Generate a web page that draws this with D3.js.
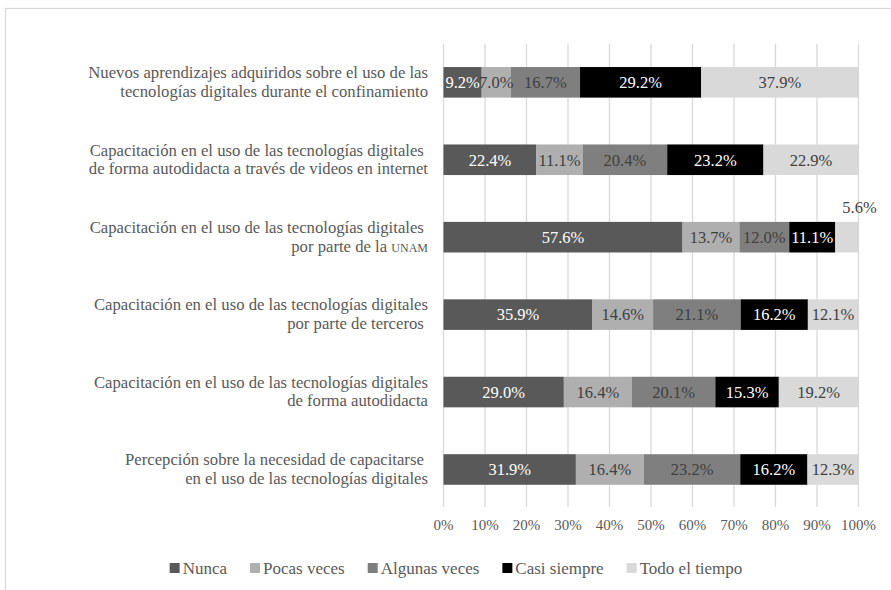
<!DOCTYPE html>
<html>
<head>
<meta charset="utf-8">
<script src="https://cdn.jsdelivr.net/npm/d3@7"></script>
<style>
  body { margin: 0; background: #fff; }
</style>
</head>
<body>
<div class="chart"></div>
<script>
var svg_width = 891;
var svg_height = 590;
var fontFamily = "'Liberation Serif', 'Times New Roman', serif";

// Data
var categories = [
	"Nuevos aprendizajes adquiridos sobre el uso de las|tecnologías digitales durante el confinamiento",
	"Capacitación en el uso de las tecnologías digitales |de forma autodidacta a través de videos en internet",
	"Capacitación en el uso de las tecnologías digitales |por parte de la UNAM",
	"Capacitación en el uso de las tecnologías digitales|por parte de terceros ",
	"Capacitación en el uso de las tecnologías digitales|de forma autodidacta",
	"Percepción sobre la necesidad de capacitarse |en el uso de las tecnologías digitales"
];
var seriesNames = ["Nunca", "Pocas veces", "Algunas veces", "Casi siempre", "Todo el tiempo"];
var nunca   = [9.2, 22.4, 57.6, 35.9, 29.0, 31.9];
var pocas   = [7.0, 11.1, 13.7, 14.6, 16.4, 16.4];
var algunas = [16.7, 20.4, 12.0, 21.1, 20.1, 23.2];
var casi    = [29.2, 23.2, 11.1, 16.2, 15.3, 16.2];
var todo    = [37.9, 22.9, 5.6, 12.1, 19.2, 12.3];
var tickValues = [0, 10, 20, 30, 40, 50, 60, 70, 80, 90, 100];

var colors = ["#595959", "#afafaf", "#7f7f7f", "#000000", "#d9d9d9"];
var labelColors = ["#ffffff", "#404040", "#404040", "#ffffff", "#404040"];

// table for the stack
var table = categories.map(function(c, i) {
	return {cat: c, "Nunca": nunca[i], "Pocas veces": pocas[i], "Algunas veces": algunas[i],
		"Casi siempre": casi[i], "Todo el tiempo": todo[i]};
});
var stacked = d3.stack().keys(seriesNames)(table);

var svg = d3.select(".chart")
	.append("svg")
	.attr("width", svg_width)
	.attr("height", svg_height)
	.attr("font-family", fontFamily);

// outer chart border (runs off the right and bottom)
svg.append("rect")
	.attr("x", 5.5).attr("y", 8.5)
	.attr("width", 920).attr("height", 620)
	.attr("fill", "none")
	.attr("stroke", "#d9d9d9")
	.attr("stroke-width", 1.3);

var xScale = d3.scaleLinear().domain([0, 100]).range([443.5, 858.5]);
var yScale = d3.scaleBand().domain(categories).range([43.8, 508]).paddingInner(0.605).paddingOuter(0.3);

// gridlines
svg.append("g").selectAll("line")
	.data(tickValues)
	.enter()
	.append("line")
	.attr("x1", d => xScale(d)).attr("x2", d => xScale(d))
	.attr("y1", 43.8).attr("y2", 507)
	.attr("stroke", "#d9d9d9")
	.attr("stroke-width", 1.3);

// tick labels
svg.append("g").selectAll("text")
	.data(tickValues)
	.enter()
	.append("text")
	.attr("x", d => xScale(d))
	.attr("y", 525)
	.attr("dy", "0.35em")
	.attr("text-anchor", "middle")
	.attr("font-size", 15)
	.attr("fill", "#595959")
	.text(d => d + "%");

// bars
var groups = svg.append("g").selectAll("g")
	.data(stacked)
	.enter()
	.append("g")
	.attr("fill", (d, i) => colors[i]);

groups.selectAll("rect")
	.data(d => d)
	.enter()
	.append("rect")
	.attr("x", d => xScale(d[0]))
	.attr("y", d => yScale(d.data.cat))
	.attr("width", d => xScale(d[1]) - xScale(d[0]))
	.attr("height", yScale.bandwidth());

// value labels (tiny segments get their label above the bar)
stacked.forEach(function(s, si) {
	svg.append("g").selectAll("text")
		.data(s)
		.enter()
		.append("text")
		.attr("x", function(d) {
			var v = d[1] - d[0];
			return v < 7 ? xScale(d[1]) + 1 : xScale((d[0] + d[1]) / 2);
		})
		.attr("y", function(d) {
			var v = d[1] - d[0];
			var c = yScale(d.data.cat) + yScale.bandwidth() / 2;
			return v < 7 ? c - 30 : c;
		})
		.attr("dy", "0.35em")
		.attr("text-anchor", "middle")
		.attr("font-size", 16.5)
		.attr("fill", function(d) {
			return (d[1] - d[0]) < 7 ? "#404040" : labelColors[si];
		})
		.text(d => (d[1] - d[0]).toFixed(1) + "%");
});

// category labels
var catLabels = svg.append("g").selectAll("text")
	.data(categories)
	.enter()
	.append("text")
	.attr("text-anchor", "end")
	.attr("font-size", 16.7)
	.attr("fill", "#595959")
	.style("white-space", "pre")
	.attr("y", d => yScale(d) + yScale.bandwidth() / 2 - 0.7);

catLabels.each(function(d) {
	var t = d3.select(this);
	var lines = d.split("|");
	lines.forEach(function(line, li) {
		var ts = t.append("tspan")
			.attr("x", 428)
			.attr("dy", li === 0 ? (-(lines.length - 1) / 2 * 18.5 + 5.8) : 18.5);
		if (line.indexOf("UNAM") >= 0) {
			var parts = line.split("UNAM");
			ts.append("tspan").text(parts[0]);
			ts.append("tspan").style("font-variant", "small-caps").text("unam");
		} else {
			ts.text(line);
		}
	});
});

// legend
var legend = svg.append("g");
var lx = 0;
seriesNames.forEach(function(name, i) {
	var item = legend.append("g").attr("transform", `translate(${lx},0)`);
	item.append("rect")
		.attr("x", 0).attr("y", -5)
		.attr("width", 10).attr("height", 10)
		.attr("fill", colors[i]);
	var txt = item.append("text")
		.attr("x", 13)
		.attr("dy", "0.35em")
		.attr("font-size", 17)
		.attr("fill", "#595959")
		.text(name);
	lx += 13 + txt.node().getComputedTextLength() + 23;
});
var legendWidth = lx - 23;
legend.attr("transform", `translate(${456 - legendWidth / 2}, 568)`);
</script>
</body>
</html>
